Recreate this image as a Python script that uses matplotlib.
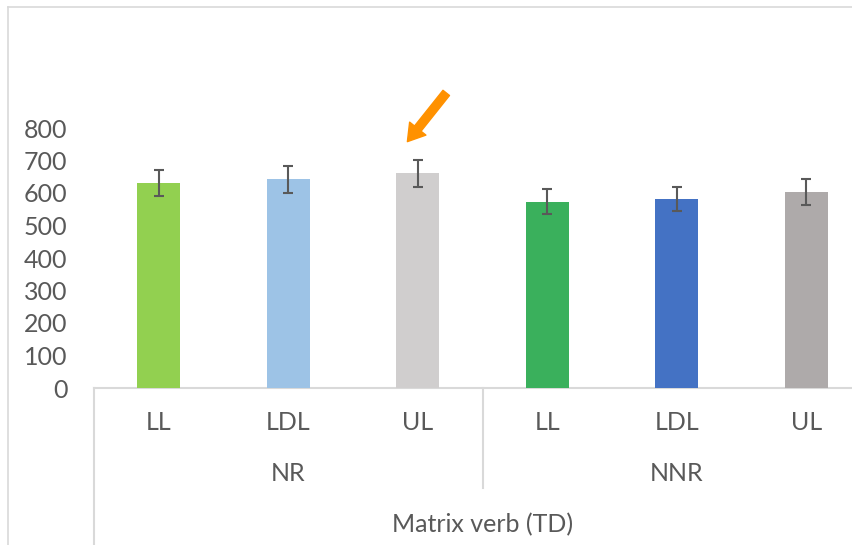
import numpy as np
import matplotlib
matplotlib.use("Agg")
import matplotlib.pyplot as plt
from matplotlib.lines import Line2D
import matplotlib.transforms as mtransforms

# data
conditions = ["LL", "LDL", "UL", "LL", "LDL", "UL"]
groups = ["NR", "NNR"]
outer_label = "Matrix verb (TD)"
means = [631, 642, 661, 573, 581, 604]
errors = [41, 41, 41, 38, 37, 40]
bar_colors = ["#92D050", "#9DC3E6", "#D0CECE", "#3AB05C", "#4472C4", "#AEAAAA"]
y_ticks = [0, 100, 200, 300, 400, 500, 600, 700, 800]

text_color = "#595959"
line_color = "#D9D9D9"
fs = 18
plt.rcParams['font.family'] = ['Lato', 'DejaVu Sans']

fig = plt.figure(figsize=(8.52, 5.45), dpi=100)
ax = fig.add_axes([94/852, 1 - 388/545, 777/852, 260/545])

x = np.arange(len(means))
ax.bar(x, means, width=0.33, color=bar_colors, zorder=2)
ax.errorbar(x, means, yerr=errors, fmt='none', ecolor=text_color,
            elinewidth=1.5, capsize=3.8, capthick=1.5, zorder=3)

ax.set_xlim(-0.5, len(means) - 0.5)
ax.set_ylim(0, 800)
ax.set_yticks(y_ticks)
ax.set_yticklabels([str(v) for v in y_ticks], fontsize=fs, color=text_color)
ax.tick_params(axis='y', length=0, pad=19)
ax.set_xticks([])
for s in ax.spines.values():
    s.set_visible(False)

trans = mtransforms.blended_transform_factory(ax.transData, ax.transAxes)

# baseline and category dividers
ax.plot([-0.5, len(means) - 0.5], [0, 0], transform=trans, color=line_color,
        lw=1.5, clip_on=False, zorder=1)
ax.plot([-0.5, -0.5], [0, -0.7], transform=trans, color=line_color,
        lw=1.5, clip_on=False)
ax.plot([2.5, 2.5], [0, -0.385], transform=trans, color=line_color,
        lw=1.5, clip_on=False)

for xi, lab in zip(x, conditions):
    ax.text(xi, -0.131, lab, transform=trans, ha='center', va='center',
            fontsize=fs, color=text_color)
for gi, g in enumerate(groups):
    ax.text(gi * 3 + 1, -0.327, g, transform=trans, ha='center', va='center',
            fontsize=fs, color=text_color)
ax.text(2.5, -0.527, outer_label, transform=trans, ha='center', va='center',
        fontsize=fs, color=text_color)

# orange arrow pointing at the NR / UL bar
ax.annotate("", xy=(1.92, 758), xytext=(2.22, 908), xycoords='data',
            annotation_clip=False,
            arrowprops=dict(arrowstyle="simple,head_length=1.2,head_width=1.5,tail_width=0.6",
                            color="#FF9100", shrinkA=0, shrinkB=0))

# chart area border (left and top visible)
fig.add_artist(Line2D([8/852, 8/852], [0, 1 - 7/545], color=line_color, lw=1.2))
fig.add_artist(Line2D([8/852, 1], [1 - 7/545, 1 - 7/545], color=line_color, lw=1.2))

fig.savefig("out.png", dpi=100)
